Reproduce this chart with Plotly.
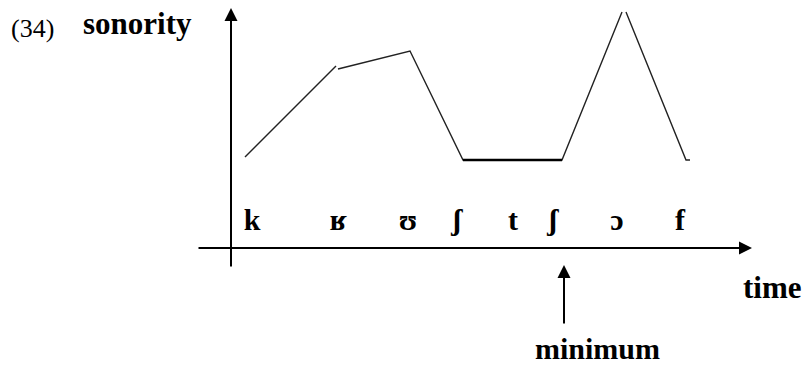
import plotly.graph_objects as go

# sonority contour (time units, sonority units); None = small pen gaps in the drawing
time_pts = [1.4, 10.5, None, 10.7, 17.9, 23.2, 33.1, 39.1, None, 39.5, 45.5, 45.9]
sonority_pts = [9.1, 18.2, None, 17.9, 19.7, 8.8, 8.8, 23.6, None, 23.6, 8.8, 8.8]

# plateau (ʃ t ʃ) drawn heavier
plateau_time = [23.2, 33.1]
plateau_son = [8.8, 8.8]

# segment labels along the time axis
segments = ["k", "ʁ", "ʊ", "ʃ", "t", "ʃ", "ɔ", "f"]
segment_time = [2.1, 10.7, 17.7, 22.6, 28.2, 32.2, 38.6, 44.9]
segment_level = 2.6

# axes extents
y_axis_bottom, y_axis_top = -2.0, 24.0
x_axis_left, x_axis_right = -3.4, 52.1
minimum_time = 33.3
minimum_tip, minimum_tail = -1.7, -7.7

FONT = "Liberation Serif, Times New Roman, serif"

fig = go.Figure()
fig.add_trace(go.Scatter(x=time_pts, y=sonority_pts, mode="lines",
                         line=dict(color="#222", width=1.4), connectgaps=False,
                         hoverinfo="skip", showlegend=False))
fig.add_trace(go.Scatter(x=plateau_time, y=plateau_son, mode="lines",
                         line=dict(color="#000", width=2.6),
                         hoverinfo="skip", showlegend=False))
fig.add_trace(go.Scatter(x=segment_time, y=[segment_level] * len(segments),
                         mode="text", text=[f"<b>{s}</b>" for s in segments],
                         textfont=dict(family=FONT, size=30, color="black"),
                         hoverinfo="skip", showlegend=False))

annotations = [
    # y axis arrow
    dict(x=0, y=y_axis_top, ax=0, ay=y_axis_bottom, xref="x", yref="y",
         axref="x", ayref="y", showarrow=True, arrowhead=2, arrowsize=1.3,
         arrowwidth=2, arrowcolor="black", text=""),
    # x axis arrow
    dict(x=x_axis_right, y=0, ax=x_axis_left, ay=0, xref="x", yref="y",
         axref="x", ayref="y", showarrow=True, arrowhead=2, arrowsize=1.3,
         arrowwidth=2, arrowcolor="black", text=""),
    # minimum arrow
    dict(x=minimum_time, y=minimum_tip, ax=minimum_time, ay=minimum_tail,
         xref="x", yref="y", axref="x", ayref="y", showarrow=True,
         arrowhead=2, arrowsize=1.3, arrowwidth=2, arrowcolor="black", text=""),
    dict(x=54.1, y=-3.9, xref="x", yref="y", text="<b>time</b>", showarrow=False,
         font=dict(family=FONT, size=31, color="black")),
    dict(x=36.6, y=-10.0, xref="x", yref="y", text="<b>minimum</b>", showarrow=False,
         font=dict(family=FONT, size=30, color="black")),
    dict(x=-9.4, y=22.5, xref="x", yref="y", text="<b>sonority</b>", showarrow=False,
         font=dict(family=FONT, size=31, color="black")),
    dict(x=-19.9, y=22.0, xref="x", yref="y", text="(34)", showarrow=False,
         font=dict(family=FONT, size=26, color="black")),
]

fig.update_layout(
    width=807, height=366,
    margin=dict(l=0, r=0, t=0, b=0),
    paper_bgcolor="white", plot_bgcolor="white",
    xaxis=dict(range=[-23.1, 57.6], visible=False, fixedrange=True),
    yaxis=dict(range=[-11.8, 24.8], visible=False, fixedrange=True),
    annotations=annotations,
    showlegend=False,
)

fig.write_html(
    "out.html",
    config={"displayModeBar": False},
    post_script="document.body.style.margin='0px';document.body.style.overflow='hidden';",
)
